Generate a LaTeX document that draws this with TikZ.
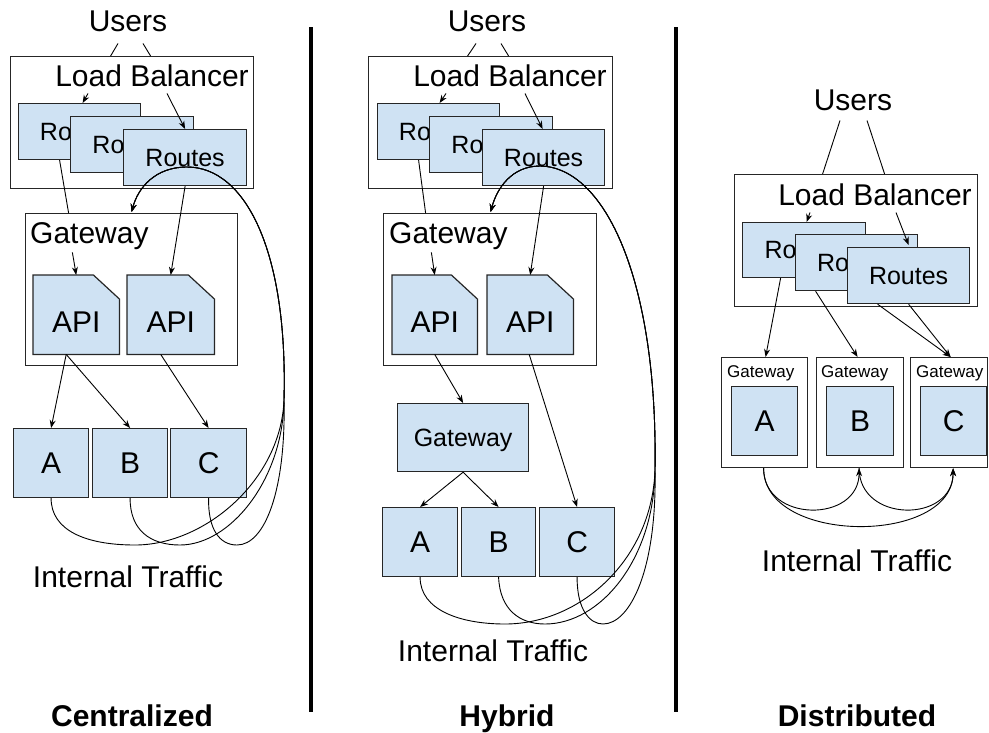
\documentclass[tikz,border=0pt]{standalone}
\usepackage{fontspec}
\setmainfont{Liberation Sans}
\usetikzlibrary{arrows.meta,backgrounds}
\definecolor{bfill}{HTML}{CFE2F3}
\definecolor{edge}{HTML}{262626}
\begin{document}
\begin{tikzpicture}[x=1pt,y=-1pt,
  bx/.style={draw=edge, fill=bfill, line width=1.2pt, inner sep=0pt, anchor=north west, text depth=0pt},
  wbox/.style={draw=edge, line width=1.2pt, inner sep=0pt, anchor=north west},
  f30/.style={font=\fontsize{30}{36}\selectfont},
  f25/.style={font=\fontsize{25}{30}\selectfont},
  f17/.style={font=\fontsize{17}{20}\selectfont},
  txt/.style={inner sep=0pt, anchor=base},
  apinode/.style={inner sep=0pt, anchor=north west, minimum height=79pt, text height=35.5pt, text depth=0pt, f30},
  apishape/.style={draw=edge, fill=bfill, line width=1.2pt, line join=miter},
  conn/.style={draw=black, line width=0.9pt, -{Stealth[length=8pt,width=6pt]}},
  plain/.style={draw=black, line width=0.9pt},
  divider/.style={draw=black, line width=4pt},
  title/.style={inner sep=0pt, anchor=base, font=\fontsize{30}{36}\selectfont\bfseries}
]
\useasboundingbox (0,0) rectangle (989,732);

% ---------------- dividers
\draw[divider] (311,27) -- (311,712);
\draw[divider] (676,27) -- (676,712);

% ================= Centralized
\node[txt,f30] (u1) at (128,31) {Users};
\node[wbox, minimum width=243pt, minimum height=132pt] (lb1) at (10,56) {};
\node[txt,f30] (lbt1) at (152,86) {Load Balancer};
\node[bx,f25, minimum width=122pt, minimum height=56pt] (r1a) at (18,103) {Routes};
\node[bx,f25, minimum width=123pt, minimum height=56pt] (r1b) at (70,116) {Routes};
\node[bx,f25, minimum width=123pt, minimum height=56pt] (r1c) at (123,129) {Routes};
\node[wbox, minimum width=212pt, minimum height=152pt] (gw1) at (25,213) {};
\node[txt,f30,anchor=base west] (gwt1) at (30,243) {Gateway};
\node[apinode, minimum width=86pt] (p1a) at (33,275) {API};
\node[apinode, minimum width=87pt] (p1b) at (127,275) {API};
\node[bx,f30, minimum width=75pt, minimum height=69pt] (a1) at (13,428) {A};
\node[bx,f30, minimum width=75pt, minimum height=69pt] (b1) at (92,428) {B};
\node[bx,f30, minimum width=76pt, minimum height=69pt] (c1) at (170,428) {C};
\node[txt,f30] (it1) at (128,587) {Internal Traffic};
\node[title] (t1) at (132,726) {Centralized};

\draw[plain] ([xshift=-10pt,yshift=-12pt]u1.south) -- ([xshift=-21.5pt]lb1.north);
\draw[plain] ([xshift=15pt,yshift=-12pt]u1.south) -- ([xshift=18.5pt]lb1.north);
\draw[conn] ([xshift=-64pt,yshift=-7pt]lbt1.south) -- ([xshift=3pt]r1a.north);
\draw[conn] ([xshift=15pt,yshift=-7pt]lbt1.south) -- (r1c.north);
\draw[plain] ([xshift=-20pt]r1a.south) -- ([xshift=-63pt]gw1.north);
\draw[conn] ([xshift=-17pt,yshift=-3pt]gwt1.south) -- (p1a.north);
\draw[conn] (r1c.south) -- (p1b.north);
\draw[conn] ([xshift=-10pt]p1a.south) -- (a1.north);
\draw[conn] ([xshift=-10pt]p1a.south) -- (b1.north);
\draw[conn] ([xshift=-10pt]p1b.south) -- (c1.north);
\coordinate (m1) at (284,400);
\draw[conn] (a1.south) .. controls (51,530) and (85,545) .. (135,545) .. controls (205,545) and (281,480) .. (m1)
  .. controls (288,250) and (245,167) .. (187,167) .. controls (155,167) and (138,188) .. ([yshift=1pt]gw1.north);
\draw[conn] (b1.south) .. controls (130,530) and (150,545) .. (180,545) .. controls (230,545) and (283,480) .. (m1)
  .. controls (288,250) and (245,167) .. (187,167) .. controls (155,167) and (138,188) .. ([yshift=1pt]gw1.north);
\draw[conn] (c1.south) .. controls (208,530) and (220,545) .. (237,545) .. controls (265,545) and (286,490) .. (m1)
  .. controls (288,250) and (245,167) .. (187,167) .. controls (155,167) and (138,188) .. ([yshift=1pt]gw1.north);

% ================= Hybrid
\node[txt,f30] (u2) at (487,31) {Users};
\node[wbox, minimum width=244pt, minimum height=132pt] (lb2) at (368,56) {};
\node[txt,f30] (lbt2) at (510,86) {Load Balancer};
\node[bx,f25, minimum width=122pt, minimum height=56pt] (r2a) at (377,103) {Routes};
\node[bx,f25, minimum width=123pt, minimum height=56pt] (r2b) at (429,116) {Routes};
\node[bx,f25, minimum width=122pt, minimum height=56pt] (r2c) at (482,129) {Routes};
\node[wbox, minimum width=213pt, minimum height=152pt] (gw2) at (383,213) {};
\node[txt,f30,anchor=base west] (gwt2) at (389,243) {Gateway};
\node[apinode, minimum width=85pt] (p2a) at (392,275) {API};
\node[apinode, minimum width=86pt] (p2b) at (487,275) {API};
\node[bx,f25, minimum width=131pt, minimum height=68pt] (hg2) at (397,403) {Gateway};
\node[bx,f30, minimum width=75pt, minimum height=69pt] (a2) at (382,507) {A};
\node[bx,f30, minimum width=74pt, minimum height=69pt] (b2) at (461,507) {B};
\node[bx,f30, minimum width=75pt, minimum height=69pt] (c2) at (539,507) {C};
\node[txt,f30] (it2) at (493,661) {Internal Traffic};
\node[title] (t2) at (507,726) {Hybrid};

\draw[plain] ([xshift=-11pt,yshift=-12pt]u2.south) -- ([xshift=-23pt]lb2.north);
\draw[plain] ([xshift=14pt,yshift=-12pt]u2.south) -- ([xshift=18pt]lb2.north);
\draw[conn] ([xshift=-64pt,yshift=-7pt]lbt2.south) -- ([xshift=1pt]r2a.north);
\draw[conn] ([xshift=15pt,yshift=-7pt]lbt2.south) -- ([xshift=-1pt]r2c.north);
\draw[plain] ([xshift=-20pt]r2a.south) -- ([xshift=-64.5pt]gw2.north);
\draw[conn] ([xshift=-17pt,yshift=-3pt]gwt2.south) -- (p2a.north);
\draw[conn] (r2c.south) -- (p2b.north);
\draw[conn] (p2a.south) -- (hg2.north);
\draw[conn] (hg2.south) -- (a2.north);
\draw[conn] (hg2.south) -- (b2.north);
\draw[conn] ([xshift=-1pt]p2b.south) -- (c2.north);
\coordinate (m2) at (655,470);
\draw[conn] (a2.south) .. controls (420,610) and (460,624) .. (505,624) .. controls (580,624) and (652,560) .. (m2)
  .. controls (658,280) and (605,167) .. (540,166) .. controls (512,166) and (497,188) .. ([xshift=0.5pt,yshift=1pt]gw2.north);
\draw[conn] (b2.south) .. controls (500,610) and (520,624) .. (545,624) .. controls (600,624) and (654,560) .. (m2)
  .. controls (658,280) and (605,167) .. (540,166) .. controls (512,166) and (497,188) .. ([xshift=0.5pt,yshift=1pt]gw2.north);
\draw[conn] (c2.south) .. controls (577,610) and (590,624) .. (603,624) .. controls (630,624) and (657,570) .. (m2)
  .. controls (658,280) and (605,167) .. (540,166) .. controls (512,166) and (497,188) .. ([xshift=0.5pt,yshift=1pt]gw2.north);

% ================= Distributed
\node[txt,f30] (u3) at (853,110) {Users};
\node[wbox, minimum width=243pt, minimum height=132pt] (lb3) at (734,174) {};
\node[txt,f30] (lbt3) at (875,205) {Load Balancer};
\node[bx,f25, minimum width=123pt, minimum height=55pt] (r3a) at (742,222) {Routes};
\node[bx,f25, minimum width=122pt, minimum height=56pt] (r3b) at (795,234) {Routes};
\node[bx,f25, minimum width=122pt, minimum height=56pt] (r3c) at (847,247) {Routes};
\node[wbox, minimum width=86pt, minimum height=110pt] (ga) at (721,357) {};
\node[wbox, minimum width=87pt, minimum height=110pt] (gb) at (816,357) {};
\node[wbox, minimum width=77pt, minimum height=110pt] (gc) at (910,357) {};
\node[txt,f17,anchor=base west] (gat) at ([xshift=6pt,yshift=-20pt]ga.north west) {Gateway};
\node[txt,f17,anchor=base west] (gbt) at ([xshift=5pt,yshift=-20pt]gb.north west) {Gateway};
\node[txt,f17,anchor=base west] (gct) at ([xshift=6pt,yshift=-20pt]gc.north west) {Gateway};
\node[bx,f30, minimum width=66pt, minimum height=69pt] (a3) at (731,386) {A};
\node[bx,f30, minimum width=67pt, minimum height=69pt] (b3) at (826,386) {B};
\node[bx,f30, minimum width=66pt, minimum height=69pt] (c3) at (920,386) {C};
\node[txt,f30] (it3) at (857,571) {Internal Traffic};
\node[title] (t3) at (857,726) {Distributed};

\draw[plain] ([xshift=-13pt,yshift=-10pt]u3.south) -- ([xshift=-33.5pt]lb3.north);
\draw[plain] ([xshift=14pt,yshift=-10pt]u3.south) -- ([xshift=28.5pt]lb3.north);
\draw[conn] ([xshift=-65pt,yshift=-7pt]lbt3.south) -- ([xshift=2.5pt]r3a.north);
\draw[conn] ([xshift=21pt,yshift=-7pt]lbt3.south) -- ([xshift=-0pt,yshift=2pt]r3c.north);
\draw[conn] ([xshift=-23.5pt]r3a.south) -- ([xshift=1pt]ga.north);
\draw[conn] ([xshift=-41pt]r3b.south) -- ([xshift=-2.5pt]gb.north);
\draw[conn] ([xshift=-31pt]r3c.south) -- ([xshift=1.5pt]gc.north);
\draw[conn] (r3c.south) -- ([xshift=1.5pt]gc.north);
\draw[conn] ([xshift=-1pt]ga.south) .. controls ([xshift=-1pt,yshift=-55pt]ga.south) and ([xshift=-1pt,yshift=-55pt]gb.south) .. ([xshift=-1pt]gb.south);
\draw[conn] ([xshift=-1pt]gb.south) .. controls ([xshift=-1pt,yshift=-55pt]gb.south) and ([xshift=4pt,yshift=-55pt]gc.south) .. ([xshift=4pt]gc.south);
\draw[conn] ([xshift=-1pt]ga.south) .. controls ([xshift=-1pt,yshift=-77pt]ga.south) and ([xshift=4pt,yshift=-77pt]gc.south) .. ([xshift=4pt]gc.south);

% ---------------- API shapes (chamfered corner) behind their labels
\begin{scope}[on background layer]
\foreach \p in {p1a,p1b,p2a,p2b}{
  \draw[apishape] (\p.north west) -- ([xshift=-26pt]\p.north east) -- ([yshift=-24pt]\p.north east)
    -- (\p.south east) -- (\p.south west) -- cycle;
}
\end{scope}
\end{tikzpicture}
\end{document}
